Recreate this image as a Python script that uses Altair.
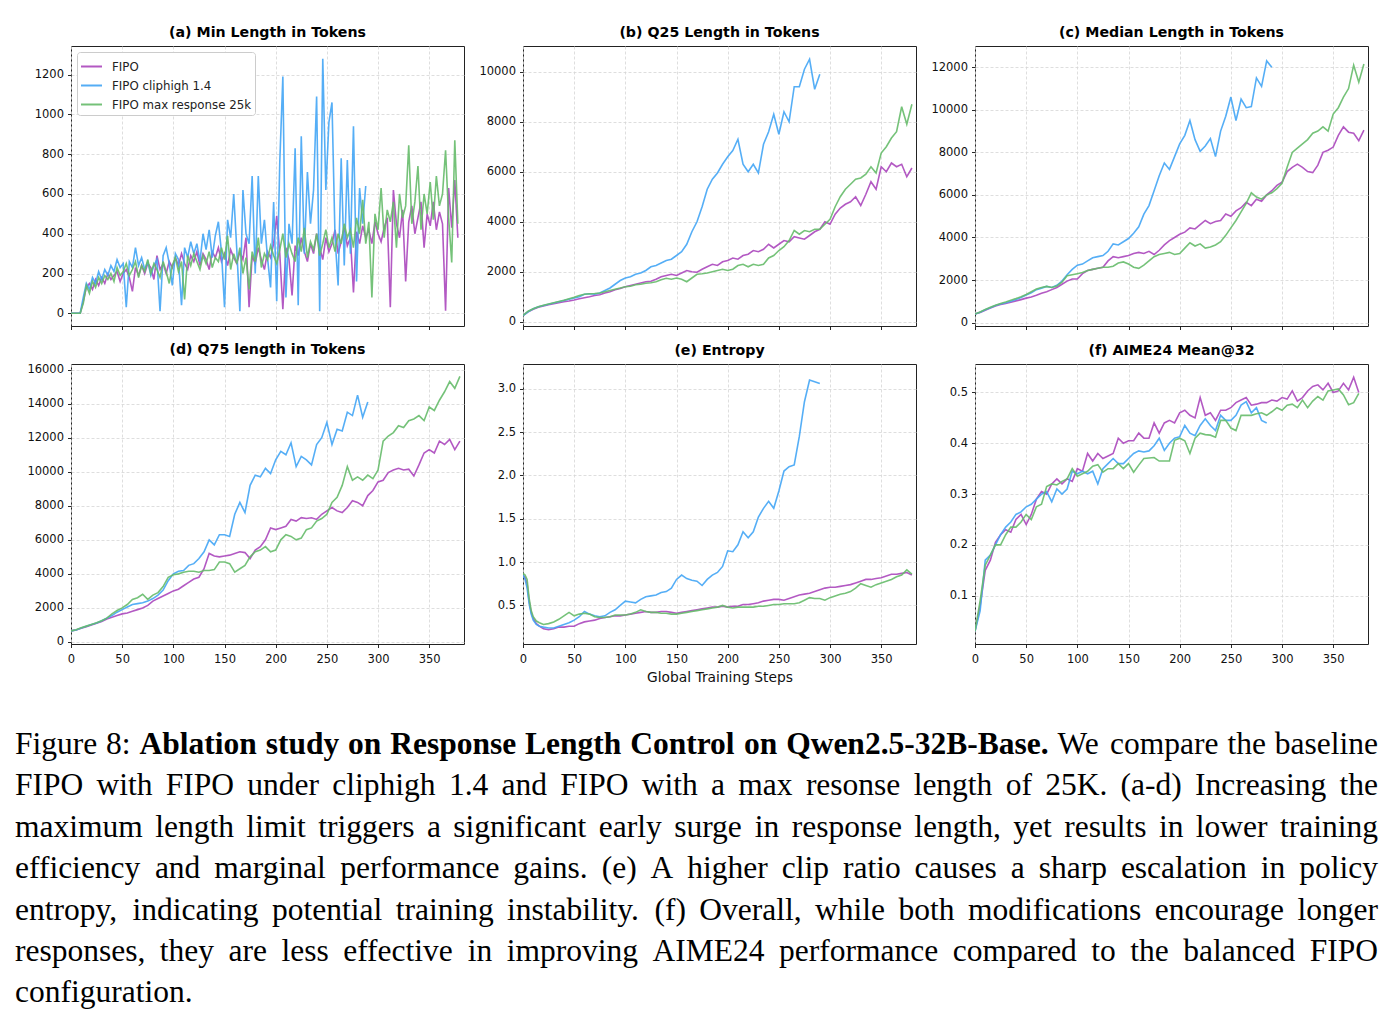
import altair as alt
import pandas as pd

SERIES = ["FIPO", "FIPO cliphigh 1.4", "FIPO max response 25k"]
COLORS = ["#AB47BC", "#42A5F5", "#66BB6A"]
FONT = "DejaVu Sans"

# ---------------- (a) Min length (sampled every 3 steps) ----------------
steps_a = list(range(0, 379, 3))
steps_a_blue = list(range(0, 289, 3))
a_fipo = [0, 0, 0, 0, 60, 130, 150, 120, 170, 140,
          180, 150, 200, 170, 190, 210, 160, 200, 220, 180,
          110, 230, 190, 240, 200, 250, 230, 170, 290, 220,
          250, 200, 260, 230, 280, 240, 300, 250, 220, 290,
          260, 310, 240, 300, 270, 220, 310, 280, 330, 260,
          300, 240, 320, 280, 250, 310, 270, 380, 30, 290,
          250, 330, 270, 220, 310, 280, 350, 490, 300, 20,
          330, 270, 90, 340, 290, 380, 310, 260, 350, 300,
          400, 330, 270, 380, 310, 350, 420, 300, 360, 430,
          340, 380, 105, 410, 350, 440, 380, 420, 350, 460,
          400, 360, 430, 480, 30, 620, 450, 380, 520, 160,
          460, 540, 400, 480, 560, 330, 500, 440, 560, 420,
          510, 450, 13, 630, 430, 670, 380]
a_clip = [0, 0, 0, 0, 80, 150, 120, 180, 150, 210,
          170, 220, 190, 240, 210, 270, 230, 250, 30, 260,
          230, 330, 240, 280, 220, 260, 190, 240, 270, 10,
          290, 330, 250, 140, 300, 270, 40, 330, 280, 360,
          300, 350, 260, 400, 320, 420, 280, 390, 460, 310,
          30, 470, 380, 600, 320, 10, 620, 400, 350, 690,
          200, 690, 350, 470, 280, 130, 560, 60, 760, 1190,
          80, 450, 350, 830, 40, 890, 300, 710, 450, 620,
          1090, 10, 1280, 620, 960, 1060, 380, 140, 780, 240,
          770, 300, 940, 160, 630, 450, 640]
a_max = [0, 0, 0, 0, 50, 140, 100, 160, 130, 180,
         150, 190, 170, 200, 160, 230, 190, 210, 250, 190,
         220, 260, 180, 240, 210, 270, 200, 250, 220, 180,
         260, 210, 150, 240, 280, 210, 260, 70, 290, 240,
         300, 260, 220, 290, 250, 310, 230, 280, 260, 330,
         270, 390, 220, 300, 250, 330, 200, 280, 120, 310,
         260, 380, 230, 300, 270, 340, 290, 250, 320, 400,
         280, 350, 300, 260, 380, 310, 430, 280, 360, 320,
         400, 290, 350, 420, 330, 380, 310, 400, 350, 450,
         380, 420, 330, 480, 400, 570, 350, 460, 80, 500,
         420, 630, 380, 520, 460, 560, 330, 600, 480, 540,
         845, 450, 560, 740, 420, 600, 500, 660, 470, 690,
         540, 600, 820, 480, 255, 870, 450]

# ---------------- (b)-(d) sampled every 5 steps ----------------
steps_5 = list(range(0, 381, 5))
steps_5_blue = list(range(0, 291, 5))
b_fipo = [250, 400, 500, 580, 630, 680, 720, 760, 800, 830,
          870, 920, 960, 1000, 1050, 1080, 1150, 1200, 1280, 1330,
          1400, 1450, 1500, 1550, 1600, 1620, 1700, 1800, 1850, 1900,
          1850, 1950, 2050, 2000, 1980, 2100, 2200, 2300, 2250, 2400,
          2450, 2550, 2500, 2650, 2700, 2850, 2800, 2900, 3100, 2950,
          3100, 3250, 3200, 3400, 3350, 3300, 3450, 3600, 3700, 4000,
          3900, 4300, 4550, 4700, 4800, 5000, 4650, 5100, 5600, 5300,
          6200, 6000, 6350, 6200, 6300, 5800, 6150]
b_clip = [250, 400, 520, 600, 650, 700, 750, 800, 850, 900,
          950, 1000, 1100, 1120, 1100, 1150, 1250, 1350, 1500, 1650,
          1750, 1800, 1900, 1950, 2050, 2200, 2250, 2350, 2450, 2500,
          2650, 2800, 3100, 3600, 4000, 4600, 5300, 5700, 5950, 6300,
          6600, 6850, 7300, 6300, 6000, 6300, 5950, 7100, 7600, 8300,
          7500, 8400, 8000, 9400, 9400, 10100, 10500, 9300, 9900]
b_max = [250, 420, 520, 600, 660, 710, 760, 810, 860, 920,
         980, 1050, 1100, 1120, 1130, 1150, 1200, 1250, 1300, 1350,
         1400, 1420, 1480, 1500, 1540, 1560, 1600, 1680, 1740, 1700,
         1750, 1700, 1600, 1750, 1900, 1920, 1950, 2000, 2050, 2100,
         2050, 2100, 2250, 2300, 2200, 2300, 2250, 2300, 2550, 2650,
         2850, 3000, 3250, 3650, 3500, 3650, 3600, 3700, 3700, 3900,
         4100, 4600, 5000, 5300, 5500, 5700, 5750, 5900, 6200, 5950,
         6750, 7000, 7350, 7600, 8600, 7900, 8700]

c_fipo = [400, 480, 580, 680, 780, 850, 900, 960, 1020, 1080,
          1150, 1200, 1280, 1380, 1450, 1550, 1650, 1800, 1950, 2050,
          2050, 2300, 2450, 2500, 2550, 2600, 2900, 3100, 3050, 3100,
          3150, 3250, 3300, 3250, 3350, 3200, 3400, 3650, 3850, 4000,
          4150, 4250, 4450, 4400, 4600, 4800, 4650, 4750, 4800, 5100,
          5000, 5250, 5400, 5650, 5500, 5800, 5700, 6000, 6200, 6450,
          6600, 7100, 7300, 7450, 7300, 7100, 7050, 7400, 8000, 8100,
          8250, 8800, 9200, 8950, 8900, 8550, 9050]
c_clip = [400, 490, 600, 700, 800, 870, 930, 1000, 1080, 1180,
          1300, 1400, 1550, 1620, 1700, 1650, 1750, 1950, 2250, 2500,
          2700, 2750, 2900, 3050, 3100, 3150, 3350, 3700, 3650, 3800,
          3950, 4200, 4500, 5100, 5500, 6200, 6900, 7500, 7200, 7800,
          8400, 8800, 9500, 8600, 8050, 8300, 8650, 7800, 9000, 9700,
          10600, 9500, 10500, 10100, 10150, 11500, 11100, 12300, 12000]
c_max = [400, 500, 620, 720, 820, 900, 970, 1050, 1130, 1220,
         1320, 1450, 1580, 1650, 1700, 1650, 1720, 1900, 2200, 2250,
         2300, 2350, 2450, 2500, 2550, 2600, 2600, 2650, 2800, 2850,
         2750, 2600, 2550, 2700, 2900, 3100, 3200, 3250, 3300, 3200,
         3250, 3500, 3750, 3600, 3700, 3500, 3550, 3650, 3800, 4100,
         4450, 4800, 5200, 5600, 6100, 5900, 5800, 6000, 6100, 6300,
         6550, 7300, 8000, 8200, 8400, 8600, 8900, 9000, 9200, 9000,
         9800, 10100, 10600, 11000, 12100, 11300, 12150]

d_fipo = [650, 700, 800, 900, 1000, 1100, 1200, 1350, 1450, 1550,
          1650, 1700, 1800, 1900, 2000, 2150, 2400, 2550, 2700, 2850,
          3000, 3100, 3300, 3500, 3700, 3800, 4300, 5200, 5050, 5000,
          5050, 5100, 5200, 5300, 5250, 4900, 5400, 5600, 6000, 6700,
          6600, 6700, 6800, 7200, 7100, 7300, 7250, 7300, 7200, 7500,
          7700, 7900, 7700, 7600, 7900, 8300, 8200, 8000, 8600, 8900,
          9400, 9500, 9950, 10100, 10200, 10100, 10150, 9750, 10400, 11100,
          11300, 11100, 11800, 11600, 11900, 11300, 11800]
d_clip = [650, 700, 820, 920, 1020, 1120, 1250, 1400, 1550, 1750,
          1900, 2050, 2200, 2250, 2300, 2400, 2550, 2750, 3050, 3600,
          4000, 4150, 4200, 4500, 4600, 4900, 5300, 6000, 5700, 6300,
          6300, 6200, 7500, 8200, 7600, 9200, 9800, 9700, 10200, 9900,
          10700, 11200, 11000, 11700, 10300, 10900, 10700, 10400, 11600, 12000,
          12900, 11600, 12500, 12400, 13500, 13300, 14500, 13200, 14100]
d_max = [650, 720, 830, 930, 1030, 1130, 1250, 1400, 1650, 1850,
         2000, 2200, 2500, 2600, 2800, 2500, 2750, 2900, 3250, 3800,
         3950, 4000, 4100, 4150, 4150, 4100, 4200, 4200, 4250, 4700,
         4700, 4600, 4100, 4300, 4500, 5000, 5300, 5400, 5600, 5300,
         5400, 6000, 6300, 6200, 6000, 6100, 6600, 6700, 7100, 7250,
         7500, 8200, 8500, 9200, 10300, 9500, 9700, 9500, 9800, 9600,
         10100, 11800, 12100, 12300, 12700, 12600, 13000, 13100, 13300, 13000,
         13800, 13600, 14200, 14700, 15300, 14900, 15600]

# ---------------- (e) Entropy ----------------
steps_e = [0, 2, 4, 6, 8, 10, 13, 16] + list(range(20, 381, 5))
steps_e_blue = [0, 2, 4, 6, 8, 10, 13, 16] + list(range(20, 291, 5))
e_fipo = [0.85, 0.82, 0.75, 0.55, 0.42, 0.35, 0.29, 0.26,
          0.23, 0.22, 0.23, 0.25, 0.25, 0.26, 0.26, 0.29, 0.31, 0.32,
          0.33, 0.35, 0.36, 0.37, 0.38, 0.38, 0.39, 0.40, 0.41, 0.42,
          0.43, 0.42, 0.42, 0.43, 0.43, 0.42, 0.41, 0.42, 0.43, 0.44,
          0.45, 0.46, 0.47, 0.48, 0.48, 0.49, 0.48, 0.49, 0.49, 0.51,
          0.51, 0.52, 0.53, 0.55, 0.56, 0.57, 0.57, 0.56, 0.58, 0.60,
          0.62, 0.63, 0.64, 0.66, 0.68, 0.70, 0.71, 0.71, 0.72, 0.73,
          0.74, 0.76, 0.78, 0.80, 0.80, 0.81, 0.82, 0.84, 0.86, 0.86,
          0.87, 0.88, 0.85]
e_clip = [0.85, 0.80, 0.70, 0.52, 0.40, 0.33, 0.28, 0.26,
          0.25, 0.24, 0.24, 0.26, 0.28, 0.30, 0.33, 0.37, 0.43, 0.40,
          0.38, 0.37, 0.38, 0.42, 0.45, 0.50, 0.55, 0.54, 0.53, 0.57,
          0.60, 0.61, 0.62, 0.65, 0.66, 0.70, 0.80, 0.85, 0.81, 0.79,
          0.78, 0.73, 0.80, 0.85, 0.88, 0.95, 1.13, 1.12, 1.20, 1.35,
          1.28, 1.35, 1.52, 1.62, 1.70, 1.62, 1.82, 2.05, 2.10, 2.12,
          2.45, 2.85, 3.10, 3.08, 3.06]
e_max = [0.87, 0.85, 0.80, 0.58, 0.44, 0.37, 0.32, 0.30,
         0.28, 0.29, 0.31, 0.34, 0.38, 0.42, 0.38, 0.40, 0.41, 0.40,
         0.37, 0.36, 0.36, 0.37, 0.39, 0.39, 0.39, 0.40, 0.42, 0.45,
         0.43, 0.42, 0.42, 0.41, 0.41, 0.40, 0.40, 0.41, 0.42, 0.43,
         0.44, 0.45, 0.46, 0.47, 0.48, 0.50, 0.48, 0.47, 0.48, 0.48,
         0.48, 0.48, 0.49, 0.49, 0.50, 0.51, 0.51, 0.52, 0.52, 0.52,
         0.53, 0.56, 0.59, 0.58, 0.58, 0.56, 0.59, 0.61, 0.63, 0.64,
         0.66, 0.70, 0.75, 0.73, 0.71, 0.74, 0.76, 0.78, 0.80, 0.83,
         0.85, 0.91, 0.86]

# ---------------- (f) AIME24 Mean@32 (every 5 steps) ----------------
steps_f = list(range(0, 376, 5))
steps_f_blue = list(range(0, 286, 5))
f_fipo = [0.03, 0.08, 0.15, 0.17, 0.205, 0.22, 0.23, 0.225, 0.25, 0.26,
          0.24, 0.26, 0.29, 0.305, 0.30, 0.32, 0.33, 0.32, 0.33, 0.325,
          0.35, 0.345, 0.38, 0.365, 0.38, 0.37, 0.375, 0.38, 0.41, 0.40,
          0.405, 0.405, 0.42, 0.41, 0.41, 0.44, 0.42, 0.44, 0.445, 0.44,
          0.46, 0.465, 0.455, 0.45, 0.49, 0.455, 0.46, 0.445, 0.465, 0.465,
          0.47, 0.48, 0.485, 0.49, 0.475, 0.477, 0.48, 0.48, 0.485, 0.483,
          0.49, 0.487, 0.503, 0.483, 0.49, 0.503, 0.512, 0.515, 0.505, 0.518,
          0.50, 0.503, 0.518, 0.505, 0.53, 0.50]
f_clip = [0.03, 0.07, 0.17, 0.18, 0.20, 0.22, 0.235, 0.245, 0.26, 0.265,
          0.275, 0.28, 0.29, 0.30, 0.305, 0.285, 0.31, 0.30, 0.31, 0.345,
          0.34, 0.345, 0.34, 0.345, 0.32, 0.35, 0.36, 0.37, 0.36, 0.36,
          0.37, 0.38, 0.385, 0.383, 0.385, 0.395, 0.41, 0.386, 0.40, 0.41,
          0.413, 0.435, 0.42, 0.415, 0.435, 0.448, 0.435, 0.425, 0.455, 0.445,
          0.445, 0.455, 0.475, 0.482, 0.46, 0.47, 0.445, 0.44]
f_max = [0.03, 0.09, 0.16, 0.18, 0.20, 0.20, 0.22, 0.235, 0.235, 0.245,
         0.26, 0.25, 0.275, 0.28, 0.315, 0.32, 0.318, 0.325, 0.33, 0.35,
         0.335, 0.34, 0.345, 0.355, 0.358, 0.343, 0.35, 0.35, 0.36, 0.35,
         0.36, 0.343, 0.357, 0.37, 0.371, 0.372, 0.365, 0.365, 0.365, 0.406,
         0.41, 0.405, 0.38, 0.41, 0.42, 0.417, 0.416, 0.412, 0.445, 0.445,
         0.43, 0.425, 0.455, 0.455, 0.455, 0.458, 0.46, 0.455, 0.462, 0.47,
         0.465, 0.475, 0.477, 0.47, 0.485, 0.47, 0.483, 0.492, 0.485, 0.503,
         0.505, 0.507, 0.495, 0.476, 0.48, 0.498]

X_TICKS = [0, 50, 100, 150, 200, 250, 300, 350]
PW, PH = 393, 280


def panel(title, steps, values, ydom, yvals, yfmt, xlabels, xtitle, legend):
    rows = []
    for name, st, vals in zip(SERIES, steps, values):
        assert len(st) == len(vals), (title, name, len(st), len(vals))
        rows += [{"step": s, "value": v, "series": name} for s, v in zip(st, vals)]
    df = pd.DataFrame(rows)
    xaxis = alt.Axis(values=X_TICKS, labels=xlabels, title=xtitle, grid=True,
                     labelPadding=6, titlePadding=5)
    yaxis = alt.Axis(values=yvals, format=yfmt, title=None, grid=True, labelPadding=4)
    return alt.Chart(df).mark_line(strokeWidth=1.6, opacity=0.9, clip=True).encode(
        x=alt.X("step:Q", scale=alt.Scale(domain=[0, 384], nice=False, zero=False), axis=xaxis),
        y=alt.Y("value:Q", scale=alt.Scale(domain=ydom, nice=False, zero=False), axis=yaxis),
        color=alt.Color("series:N", scale=alt.Scale(domain=SERIES, range=COLORS), legend=legend),
    ).properties(
        width=PW, height=PH,
        title=alt.TitleParams(title, fontSize=14.2, fontWeight="bold", font=FONT,
                              offset=6, anchor="middle", color="#000"),
    )


leg = alt.Legend(orient="top-left", title=None, symbolType="stroke", symbolSize=440,
                 symbolStrokeWidth=2, labelFontSize=11.8, labelFont=FONT, labelColor="#222",
                 fillColor="white", strokeColor="#cccccc", padding=3, cornerRadius=3,
                 offset=6, rowPadding=0, labelOffset=9, labelLimit=300)

pa = panel("(a) Min Length in Tokens", [steps_a, steps_a_blue, steps_a], [a_fipo, a_clip, a_max],
           [-64, 1344], [0, 200, 400, 600, 800, 1000, 1200], "d", False, None, leg)
pb = panel("(b) Q25 Length in Tokens", [steps_5, steps_5_blue, steps_5], [b_fipo, b_clip, b_max],
           [-170, 11030], [0, 2000, 4000, 6000, 8000, 10000], "d", False, None, None)
pc = panel("(c) Median Length in Tokens", [steps_5, steps_5_blue, steps_5], [c_fipo, c_clip, c_max],
           [-160, 13000], [0, 2000, 4000, 6000, 8000, 10000, 12000], "d", False, None, None)
pd_ = panel("(d) Q75 length in Tokens", [steps_5, steps_5_blue, steps_5], [d_fipo, d_clip, d_max],
            [-120, 16330], [0, 2000, 4000, 6000, 8000, 10000, 12000, 14000, 16000], "d", True, None, None)
pe = panel("(e) Entropy", [steps_e, steps_e_blue, steps_e], [e_fipo, e_clip, e_max],
           [0.055, 3.285], [0.5, 1.0, 1.5, 2.0, 2.5, 3.0], ".1f", True, "Global Training Steps", None)
pf = panel("(f) AIME24 Mean@32", [steps_f, steps_f_blue, steps_f], [f_fipo, f_clip, f_max],
           [0.005, 0.556], [0.1, 0.2, 0.3, 0.4, 0.5], ".1f", True, None, None)

# ---------------- caption (justified text, Times-compatible metrics) ----------------
REG = {" ": 250, "(": 333, ")": 333, ",": 250, "-": 333, ".": 250, ":": 278,
       "A": 722, "B": 667, "C": 667, "D": 722, "E": 611, "F": 556, "G": 722, "H": 722, "I": 333,
       "J": 389, "K": 722, "L": 611, "M": 889, "N": 722, "O": 722, "P": 556, "Q": 722, "R": 667,
       "S": 556, "T": 611, "U": 722, "V": 722, "W": 944, "X": 722, "Y": 722, "Z": 611,
       "a": 444, "b": 500, "c": 444, "d": 500, "e": 444, "f": 333, "g": 500, "h": 500, "i": 278,
       "j": 278, "k": 500, "l": 278, "m": 778, "n": 500, "o": 500, "p": 500, "q": 500, "r": 333,
       "s": 389, "t": 278, "u": 500, "v": 500, "w": 722, "x": 500, "y": 500, "z": 444}
BLD = {" ": 250, "(": 333, ")": 333, ",": 250, "-": 333, ".": 250, ":": 333,
       "A": 722, "B": 667, "C": 722, "D": 722, "E": 667, "F": 611, "G": 778, "H": 778, "I": 389,
       "L": 667, "M": 944, "Q": 778, "R": 722, "S": 556, "T": 667, "W": 1000,
       "a": 500, "b": 556, "c": 444, "d": 556, "e": 444, "f": 333, "g": 500, "h": 556, "i": 278,
       "j": 333, "k": 556, "l": 278, "m": 833, "n": 556, "o": 500, "p": 556, "q": 556, "r": 444,
       "s": 389, "t": 333, "u": 556, "v": 500, "w": 722, "x": 500, "y": 500, "z": 444}


def wwidth(word, bold):
    table = BLD if bold else REG
    return sum(table.get(ch, 500) for ch in word) / 1000.0


caption_lines = [
    [("Figure", 0), ("8:", 0), ("Ablation", 1), ("study", 1), ("on", 1), ("Response", 1),
     ("Length", 1), ("Control", 1), ("on", 1), ("Qwen2.5-32B-Base.", 1), ("We", 0),
     ("compare", 0), ("the", 0), ("baseline", 0)],
    [(w, 0) for w in "FIPO with FIPO under cliphigh 1.4 and FIPO with a max resonse length of 25K. (a-d) Increasing the".split()],
    [(w, 0) for w in "maximum length limit triggers a significant early surge in response length, yet results in lower training".split()],
    [(w, 0) for w in "efficiency and marginal performance gains. (e) A higher clip ratio causes a sharp escalation in policy".split()],
    [(w, 0) for w in "entropy, indicating potential training instability. (f) Overall, while both modifications encourage longer".split()],
    [(w, 0) for w in "responses, they are less effective in improving AIME24 performance compared to the balanced FIPO".split()],
    [(w, 0) for w in "configuration.".split()],
]
CAP_FS = 31.5
CAP_X0 = -56.0          # relative to the caption cell origin
CAP_W = 1363.0
CAP_Y0 = 72.0
CAP_LH = 41.4

cap_rows = []
for li, words in enumerate(caption_lines):
    widths = [wwidth(w, b) * CAP_FS for w, b in words]
    last = li == len(caption_lines) - 1
    gap = 0.25 * CAP_FS if (last or len(words) < 2) else (CAP_W - sum(widths)) / (len(words) - 1)
    x = CAP_X0
    for (w, b), wd in zip(words, widths):
        cap_rows.append({"x": x, "y": CAP_Y0 + li * CAP_LH, "text": w, "bold": b})
        x += wd + gap
cap_df = pd.DataFrame(cap_rows)

cap_reg = alt.Chart(cap_df[cap_df["bold"] == 0]).mark_text(
    font="Liberation Serif", fontSize=CAP_FS, align="left", baseline="alphabetic", color="#000"
).encode(x=alt.X("x:Q", scale=None, axis=None), y=alt.Y("y:Q", scale=None, axis=None), text="text:N")
cap_bold = alt.Chart(cap_df[cap_df["bold"] == 1]).mark_text(
    font="Liberation Serif", fontSize=CAP_FS, fontWeight="bold", align="left", baseline="alphabetic",
    color="#000"
).encode(x=alt.X("x:Q", scale=None, axis=None), y=alt.Y("y:Q", scale=None, axis=None), text="text:N")
caption = alt.layer(cap_reg, cap_bold).properties(
    width=PW, height=325, view=alt.ViewBackground(stroke="transparent"))

chart = alt.concat(
    pa, pb, pc, pd_, pe, pf, caption,
    columns=3, bounds="flush", spacing={"row": 38, "column": 59},
).configure(
    font=FONT, padding={"left": 14, "top": 25, "right": 5, "bottom": 2},
).configure_view(
    stroke="#222", strokeWidth=1,
).configure_axis(
    labelFont=FONT, labelFontSize=11.5, labelColor="#111", tickColor="#111", tickSize=3.5,
    tickWidth=0.9, domain=False, gridColor="#d6d6d6", gridDash=[3, 2], labelFlush=False,
    gridWidth=0.8, titleFont=FONT, titleFontSize=13.8, titleFontWeight="normal",
    titleColor="#111",
)

chart.save("out.html", embed_options={"renderer": "svg", "actions": False})
